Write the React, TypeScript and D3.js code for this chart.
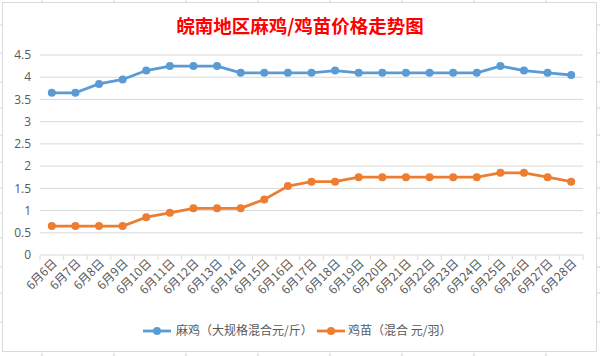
import React from "react";
import * as d3 from "d3";

const categories = ["6月6日","6月7日","6月8日","6月9日","6月10日","6月11日","6月12日","6月13日","6月14日","6月15日","6月16日","6月17日","6月18日","6月19日","6月20日","6月21日","6月22日","6月23日","6月24日","6月25日","6月26日","6月27日","6月28日"];
const maJi = [3.65,3.65,3.85,3.95,4.15,4.25,4.25,4.25,4.1,4.1,4.1,4.1,4.15,4.1,4.1,4.1,4.1,4.1,4.1,4.25,4.15,4.1,4.05];
const jiMiao = [0.65,0.65,0.65,0.65,0.85,0.95,1.05,1.05,1.05,1.25,1.55,1.65,1.65,1.75,1.75,1.75,1.75,1.75,1.75,1.85,1.85,1.75,1.65];
const yTicks = [0,0.5,1,1.5,2,2.5,3,3.5,4,4.5];
const seriesNames = ["麻鸡（大规格混合元/斤）","鸡苗（混合 元/羽）"];
const title = "皖南地区麻鸡/鸡苗价格走势图";

const W = 600, H = 356;
const plot = { left: 40, right: 583, top: 55, bottom: 255 };
const BLUE = "#5B9BD5", ORANGE = "#ED7D31";
const CJK = "'Noto Sans CJK SC', 'Noto Sans', sans-serif";
const NUM = "'Open Sans', 'Noto Sans', sans-serif";

export default function App() {
  const x = d3.scaleBand<string>().domain(categories).range([plot.left, plot.right]).padding(0);
  const y = d3.scaleLinear().domain([0, 4.5]).range([plot.bottom, plot.top]);
  const cx = (c: string) => (x(c) as number) + x.bandwidth() / 2;
  const line = d3.line<number>().x((_, i) => cx(categories[i])).y((d) => y(d));
  const series = [
    { name: seriesNames[0], data: maJi, color: BLUE },
    { name: seriesNames[1], data: jiMiao, color: ORANGE },
  ];
  const rows = [25, 53, 82, 108, 135, 162, 188, 213, 238, 267, 293, 322];
  const cols = d3.range(8).map((i) => 42 + i * 72);
  const tickXs = categories.map((c) => x(c) as number).concat([plot.right]);

  const legendItems = [
    { lx: 143, tx: 176, s: series[0] },
    { lx: 317, tx: 348, s: series[1] },
  ];
  const legendY = 331;

  return (
    <svg width={W} height={H} style={{ position: "absolute", left: 0, top: 0, background: "#fff" }}>
      {/* spreadsheet grid marks outside chart */}
      {rows.map((r) => (
        <g key={"r" + r}>
          <line x1={0} x2={2} y1={r} y2={r} stroke="#d4d4d4" />
          <line x1={597} x2={600} y1={r} y2={r} stroke="#d4d4d4" />
        </g>
      ))}
      {cols.map((c) => (
        <g key={"c" + c}>
          <line x1={c} x2={c} y1={0} y2={2} stroke="#d4d4d4" />
          <line x1={c} x2={c} y1={353} y2={356} stroke="#d4d4d4" />
        </g>
      ))}
      <rect x={2.5} y={2.5} width={594} height={349} fill="#fff" stroke="#d9d9d9" />

      <text x={300} y={33} textAnchor="middle" fill="#FF0000" fontFamily={CJK} fontSize={18.5} fontWeight="bold">{title}</text>

      {yTicks.map((t) => (
        <g key={t}>
          {t > 0 && <line x1={plot.left} x2={plot.right} y1={y(t)} y2={y(t)} stroke="#d9d9d9" strokeWidth={1} />}
          <text x={31} y={y(t)} dy="0.35em" textAnchor="end" fill="#595959" fontFamily={NUM} fontSize={12}>{t}</text>
        </g>
      ))}

      <line x1={plot.left} x2={plot.right} y1={plot.bottom} y2={plot.bottom} stroke="#d9d9d9" />
      {tickXs.map((tx, i) => (
        <line key={i} x1={tx} x2={tx} y1={plot.bottom} y2={plot.bottom + 5} stroke="#d9d9d9" />
      ))}
      {categories.map((c) => (
        <text key={c} transform={`translate(${cx(c) + 6},${plot.bottom + 9}) rotate(-45)`} textAnchor="end" fill="#595959" fontFamily={CJK} fontSize={12}>{c}</text>
      ))}

      {series.map((s) => (
        <g key={s.name}>
          <path d={line(s.data) as string} fill="none" stroke={s.color} strokeWidth={2.8} strokeLinejoin="round" />
          {s.data.map((v, i) => (
            <circle key={i} cx={cx(categories[i])} cy={y(v)} r={4} fill={s.color} />
          ))}
        </g>
      ))}

      {legendItems.map((l) => (
        <g key={l.s.name}>
          <line x1={l.lx} x2={l.lx + 28} y1={legendY} y2={legendY} stroke={l.s.color} strokeWidth={2.8} />
          <circle cx={l.lx + 14} cy={legendY} r={4} fill={l.s.color} />
          <text x={l.tx} y={legendY} dy="0.35em" fill="#595959" fontFamily={CJK} fontSize={12}>{l.s.name}</text>
        </g>
      ))}
    </svg>
  );
}
